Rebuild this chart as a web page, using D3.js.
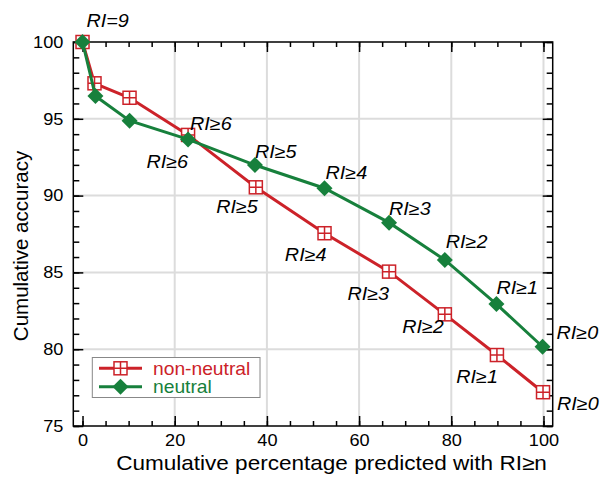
<!DOCTYPE html>
<html>
<head>
<meta charset="utf-8">
<script src="https://cdn.jsdelivr.net/npm/d3@7"></script>
<style>
  body { margin: 0; background: #fff; }
  svg { font-family: "Liberation Sans", Arial, Helvetica, sans-serif; }
</style>
</head>
<body>
<svg id="chart" width="600" height="478"></svg>
<script>
// cumulative % predicted and accuracy, RI=9 down to RI>=0
const riLabels = ['RI=9', 'RI≥8', 'RI≥7', 'RI≥6', 'RI≥5', 'RI≥4', 'RI≥3', 'RI≥2', 'RI≥1', 'RI≥0'];
const nonNeutralPct = [0, 2.6, 10.2, 22.9, 37.6, 52.5, 66.5, 78.6, 89.9, 99.9];
const nonNeutralAcc = [100, 97.31, 96.37, 93.95, 90.54, 87.55, 85.05, 82.27, 79.62, 77.2];
const neutralPct = [0, 2.8, 10.2, 22.9, 37.4, 52.5, 66.5, 78.6, 89.8, 99.8];
const neutralAcc = [100, 96.48, 94.88, 93.66, 91.99, 90.48, 88.24, 85.81, 82.94, 80.16];
const xTicks = [0, 20, 40, 60, 80, 100];
const yTicks = [75, 80, 85, 90, 95, 100];

// where each point label sits relative to its marker (null = no label)
const redLabelPos = [null, null, null, [0, 33, 'end'], [2, 26, 'end'], [2, 28, 'end'],
    [0, 28, 'end'], [-1, 19, 'end'], [1, 28, 'end'], [14, 18, 'start']];
const greenLabelPos = [[4, -15, 'start'], null, null, [2, -9, 'start'], [0, -7, 'start'],
    [1, -9, 'start'], [0, -8, 'start'], [1, -12, 'start'], [0, -10, 'start'], [14, -8, 'start']];

const red = '#cc2229', green = '#17803c';
const SX = 1.1; // text in the original is a little wide
const margin = {top: 42, right: 47.3, bottom: 52, left: 73.3};
const W = 600 - margin.left - margin.right;
const H = 478 - margin.top - margin.bottom;

const svg = d3.select('#chart');
const g = svg.append('g').attr('transform', `translate(${margin.left},${margin.top})`);

const x = d3.scaleLinear().domain([-2, 102]).range([0, W]);
const y = d3.scaleLinear().domain([75, 100]).range([H, 0]);

// wide text placed at (px, py)
function wideText(parent, px, py) {
    return parent.append('text').attr('transform', `translate(${px},${py}) scale(${SX},1)`);
}

// grid
g.append('g').selectAll('line').data(xTicks.filter(d => d > 0)).enter().append('line')
    .attr('x1', d => x(d)).attr('x2', d => x(d)).attr('y1', 0).attr('y2', H)
    .attr('stroke', '#dcdcdc').attr('stroke-width', 2);
g.append('g').selectAll('line').data(yTicks.filter(d => d > 75 && d < 100)).enter().append('line')
    .attr('y1', d => y(d)).attr('y2', d => y(d)).attr('x1', 0).attr('x2', W)
    .attr('stroke', '#dcdcdc').attr('stroke-width', 2);

// axes: major + minor ticks, all pointing inward, mirrored on top/right
function styleAxis(sel) {
    sel.select('.domain').remove();
    sel.selectAll('line').attr('stroke', '#000').attr('stroke-width', 1.5);
    sel.selectAll('text').attr('font-size', 16.5).attr('fill', '#000')
        .attr('transform', `scale(${SX},1)`)
        .attr('x', function () { return +d3.select(this).attr('x') / SX; });
}
const xMinor = d3.range(0, 101, 5), yMinor = d3.range(75, 101, 1);

g.append('g').attr('transform', `translate(0,${H})`)
    .call(d3.axisBottom(x).tickValues(xMinor).tickSize(-5).tickFormat('')).call(styleAxis);
g.append('g').attr('transform', `translate(0,${H})`)
    .call(d3.axisBottom(x).tickValues(xTicks).tickSize(-10).tickPadding(8).tickFormat(d3.format('d')))
    .call(styleAxis);
g.append('g').call(d3.axisTop(x).tickValues(xMinor).tickSize(-5).tickFormat('')).call(styleAxis);
g.append('g').call(d3.axisTop(x).tickValues(xTicks).tickSize(-10).tickFormat('')).call(styleAxis);

g.append('g').call(d3.axisLeft(y).tickValues(yMinor).tickSize(-6).tickFormat('')).call(styleAxis);
g.append('g').call(d3.axisLeft(y).tickValues(yTicks).tickSize(-10).tickPadding(10).tickFormat(d3.format('d')))
    .call(styleAxis);
g.append('g').attr('transform', `translate(${W},0)`)
    .call(d3.axisRight(y).tickValues(yMinor).tickSize(-6).tickFormat('')).call(styleAxis);
g.append('g').attr('transform', `translate(${W},0)`)
    .call(d3.axisRight(y).tickValues(yTicks).tickSize(-10).tickFormat('')).call(styleAxis);

g.append('rect').attr('width', W).attr('height', H)
    .attr('fill', 'none').attr('stroke', '#000').attr('stroke-width', 1.5);

// axis titles
wideText(svg, 331.5, 470).attr('text-anchor', 'middle').attr('font-size', 20.5)
    .text('Cumulative percentage predicted with RI≥n');
svg.append('text').attr('transform', 'translate(28,246) rotate(-90)')
    .attr('text-anchor', 'middle').attr('font-size', 20.5)
    .text('Cumulative accuracy');

// series
const redPts = nonNeutralPct.map((p, i) => ({x: p, y: nonNeutralAcc[i], label: riLabels[i], pos: redLabelPos[i]}));
const greenPts = neutralPct.map((p, i) => ({x: p, y: neutralAcc[i], label: riLabels[i], pos: greenLabelPos[i]}));
const line = d3.line().x(d => x(d.x)).y(d => y(d.y));

function squareMarker(sel, s) {
    sel.append('rect').attr('x', -s).attr('y', -s).attr('width', 2 * s).attr('height', 2 * s)
        .attr('fill', '#fff').attr('stroke', red).attr('stroke-width', 1.5);
    sel.append('path').attr('d', `M${-s},0H${s}M0,${-s}V${s}`)
        .attr('stroke', red).attr('stroke-width', 1.5);
}
function diamondMarker(sel, s) {
    sel.append('path').attr('d', `M0,${-s}L${s},0L0,${s}L${-s},0Z`).attr('fill', green);
}

g.append('path').datum(redPts).attr('d', line)
    .attr('fill', 'none').attr('stroke', red).attr('stroke-width', 3);
g.selectAll('.sq').data(redPts).enter().append('g').attr('class', 'sq')
    .attr('transform', d => `translate(${x(d.x)},${y(d.y)})`)
    .call(squareMarker, 6.5);

g.append('path').datum(greenPts).attr('d', line)
    .attr('fill', 'none').attr('stroke', green).attr('stroke-width', 3);
g.selectAll('.dm').data(greenPts).enter().append('g').attr('class', 'dm')
    .attr('transform', d => `translate(${x(d.x)},${y(d.y)})`)
    .call(diamondMarker, 8);

// point labels
const labelled = redPts.concat(greenPts).filter(d => d.pos);
g.selectAll('.lab').data(labelled).enter().append('text').attr('class', 'lab')
    .attr('transform', d => `translate(${x(d.x) + d.pos[0]},${y(d.y) + d.pos[1]}) scale(${SX},1)`)
    .attr('text-anchor', d => d.pos[2])
    .attr('font-size', 18).attr('font-style', 'italic')
    .text(d => d.label);

// legend
const lg = svg.append('g');
lg.append('rect').attr('x', 92.3).attr('y', 357.5).attr('width', 167.7).attr('height', 40)
    .attr('fill', '#fff').attr('stroke', '#888').attr('stroke-width', 1);
const legendItems = [
    {name: 'non-neutral', color: red, marker: s => squareMarker(s, 6.5), y: 368.3},
    {name: 'neutral', color: green, marker: s => diamondMarker(s, 8), y: 386.7}
];
legendItems.forEach(it => {
    lg.append('line').attr('x1', 99).attr('x2', 142).attr('y1', it.y).attr('y2', it.y)
        .attr('stroke', it.color).attr('stroke-width', 3);
    lg.append('g').attr('transform', `translate(120.5,${it.y})`).call(it.marker);
    wideText(lg, 153, it.y + 6.3).attr('font-size', 17.5).attr('fill', it.color).text(it.name);
});
</script>
</body>
</html>
